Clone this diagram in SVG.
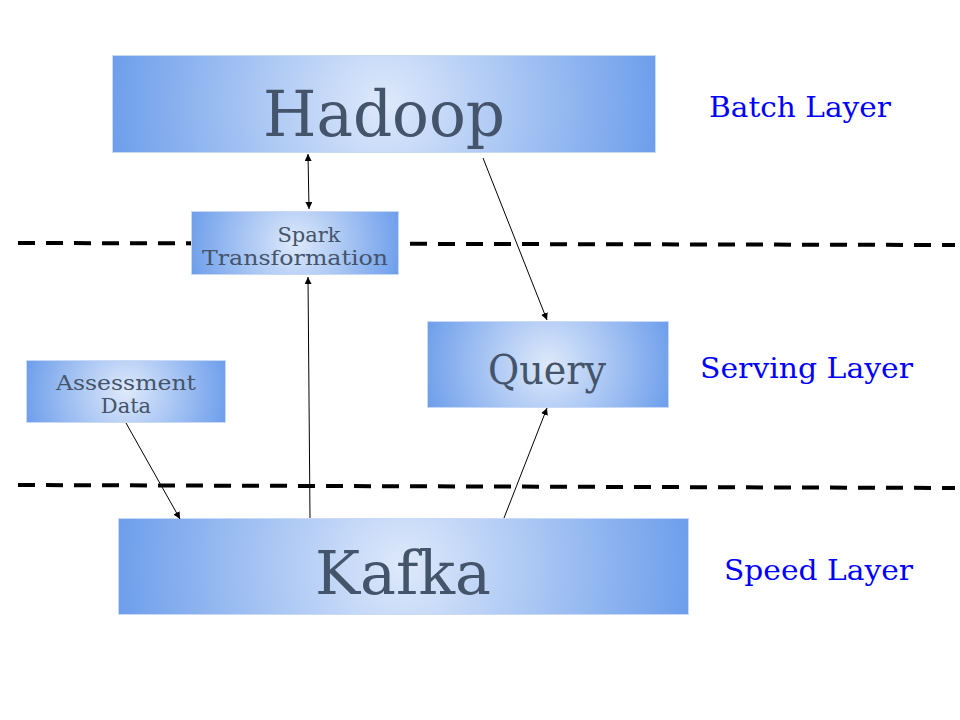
<svg xmlns="http://www.w3.org/2000/svg" width="960" height="720" viewBox="0 0 960 720">
<style>
.box{stroke:#c9daf8;stroke-width:1}
.nt{font-family:"DejaVu Serif","Liberation Serif",serif;fill:#44546a;text-anchor:middle}
.lt{font-family:"DejaVu Serif","Liberation Serif",serif;fill:#0000ff;font-size:28px}
.dash{stroke:#000;stroke-width:4;stroke-dasharray:17 11;fill:none}
.ar{stroke:#000;stroke-width:1;fill:none}
.s0{stop-color:#dee9fb}
.s1{stop-color:#6d9eeb}
</style>
<defs>
<radialGradient id="gH" gradientUnits="userSpaceOnUse" cx="384" cy="104" r="276"><stop offset="0" class="s0"/><stop offset="1" class="s1"/></radialGradient>
<radialGradient id="gS" gradientUnits="userSpaceOnUse" cx="295" cy="243" r="108"><stop offset="0" class="s0"/><stop offset="1" class="s1"/></radialGradient>
<radialGradient id="gQ" gradientUnits="userSpaceOnUse" cx="548" cy="364.5" r="128"><stop offset="0" class="s0"/><stop offset="1" class="s1"/></radialGradient>
<radialGradient id="gA" gradientUnits="userSpaceOnUse" cx="126" cy="391.5" r="104"><stop offset="0" class="s0"/><stop offset="1" class="s1"/></radialGradient>
<radialGradient id="gK" gradientUnits="userSpaceOnUse" cx="403.5" cy="566.5" r="289"><stop offset="0" class="s0"/><stop offset="1" class="s1"/></radialGradient>
<marker id="ah" viewBox="0 0 10 10" refX="10" refY="5" markerWidth="7" markerHeight="7" markerUnits="userSpaceOnUse" orient="auto-start-reverse">
<path d="M0,0 L10,5 L0,10 z" fill="#000"/>
</marker>
</defs>
<rect width="960" height="720" fill="#fff"/>
<g id="dividers">
<line class="dash" x1="18" y1="243" x2="955" y2="245"/>
<line class="dash" x1="18" y1="485" x2="955" y2="488"/>
</g>
<g id="hadoop">
<rect class="box" x="112.5" y="55.5" width="543" height="97" fill="url(#gH)"/>
<text class="nt" x="384" y="136" font-size="64" textLength="242" lengthAdjust="spacingAndGlyphs">Hadoop</text>
</g>
<g id="spark">
<rect class="box" x="191.5" y="211.5" width="207" height="63" fill="url(#gS)"/>
<text class="nt" x="309" y="242" font-size="21">Spark</text>
<text class="nt" x="295" y="265" font-size="21" textLength="186" lengthAdjust="spacingAndGlyphs">Transformation</text>
</g>
<g id="query">
<rect class="box" x="427.5" y="321.5" width="241" height="86" fill="url(#gQ)"/>
<text class="nt" x="547" y="384" font-size="41" textLength="118" lengthAdjust="spacingAndGlyphs">Query</text>
</g>
<g id="assessment">
<rect class="box" x="26.5" y="360.5" width="199" height="62" fill="url(#gA)"/>
<text class="nt" x="126" y="390" font-size="21" textLength="140" lengthAdjust="spacingAndGlyphs">Assessment</text>
<text class="nt" x="126" y="413" font-size="21">Data</text>
</g>
<g id="kafka">
<rect class="box" x="118.5" y="518.5" width="570" height="96" fill="url(#gK)"/>
<text class="nt" x="403" y="594" font-size="59" textLength="176" lengthAdjust="spacingAndGlyphs">Kafka</text>
</g>
<g id="labels">
<text class="lt" x="709" y="117" textLength="182" lengthAdjust="spacingAndGlyphs">Batch Layer</text>
<text class="lt" x="700" y="378" textLength="213" lengthAdjust="spacingAndGlyphs">Serving Layer</text>
<text class="lt" x="724" y="580" textLength="189" lengthAdjust="spacingAndGlyphs">Speed Layer</text>
</g>
<g id="connectors">
<line class="ar" x1="308" y1="154" x2="309" y2="209" marker-start="url(#ah)" marker-end="url(#ah)"/>
<line class="ar" x1="310" y1="518" x2="308" y2="277" marker-end="url(#ah)"/>
<line class="ar" x1="483" y1="158" x2="547" y2="320" marker-end="url(#ah)"/>
<line class="ar" x1="504" y1="518" x2="547" y2="408" marker-end="url(#ah)"/>
<line class="ar" x1="126" y1="423" x2="180" y2="519" marker-end="url(#ah)"/>
</g>
</svg>
